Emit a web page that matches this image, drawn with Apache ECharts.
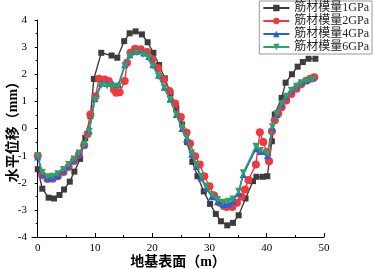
<!DOCTYPE html>
<html><head><meta charset="utf-8">
<script src="https://cdn.jsdelivr.net/npm/echarts@6/dist/echarts.min.js"></script>
<style>html,body{margin:0;padding:0;background:#fff}#c{width:374px;height:269px}</style>
</head><body><div id="c"></div>
<script>
var seriesNames = ['筋材模量1GPa','筋材模量2GPa','筋材模量4GPa','筋材模量6GPa'];
var xTickLabels = [0,10,20,30,40,50];
var xMinorTicks = [5,15,25,35,45];

var x1 = [0,0.8,1.9,2.85,3.8,4.6,5.6,6.4,7.4,8.3,9.2,9.8,11.1,12.9,13.9,15.1,16.05,17.1,18.2,19.2,20.2,21.2,22.2,23.2,24.2,25.2,26.1,27.0,27.9,29.0,30.1,31.1,32.0,33.1,34.1,35.1,36.3,37.6,38.2,39.3,40.1,40.9,41.4,42.6,43.3,44.4,45.4,46.3,47.3,48.5];
var y1 = [-1.5,-2.22,-2.55,-2.58,-2.45,-2.25,-1.96,-1.59,-1.12,-0.35,0.45,1.83,2.79,2.69,2.61,3.22,3.51,3.58,3.47,3.18,2.79,2.34,1.85,1.3,0.75,0.15,-0.5,-1.23,-1.76,-2.32,-2.78,-3.15,-3.42,-3.57,-3.48,-3.2,-2.58,-1.94,-1.78,-1.78,-1.76,-0.47,0.52,1.13,1.69,2.0,2.28,2.45,2.57,2.57];

var x2 = [0,0.8,1.7,2.6,3.5,4.5,5.4,6.3,7.2,8.1,8.7,9.2,10.1,10.7,11.7,12.4,13.3,13.7,14.3,15.2,15.6,16.2,17.0,18.0,19.1,20.0,21.0,22.0,23.0,24.0,25.0,26.0,26.6,27.5,28.3,29.1,30.0,30.8,31.8,32.5,33.0,34.0,34.8,35.6,36.2,36.8,38.1,38.8,39.4,40.0,40.4,40.9,41.4,42.0,42.6,43.4,44.3,45.2,46.0,46.9,47.6,48.3];
var y2 = [-1.0,-1.72,-1.86,-1.85,-1.76,-1.6,-1.42,-1.2,-0.96,-0.62,-0.2,0.52,1.19,1.83,1.81,1.75,1.44,1.32,1.34,1.75,2.42,2.79,2.94,2.92,2.82,2.55,2.22,1.81,1.38,0.92,0.42,-0.15,-0.55,-1.02,-1.33,-1.76,-2.13,-2.47,-2.74,-2.86,-2.89,-2.89,-2.74,-2.52,-2.25,-1.9,-1.33,-0.14,-0.5,-0.87,-1.21,-0.1,0.3,0.55,0.78,1.03,1.27,1.47,1.63,1.76,1.83,1.89];

var x4 = [0,0.8,1.7,2.6,3.5,4.5,5.4,6.3,7.2,8.1,9.0,10.0,11.1,12.1,13.1,14.1,15.2,16.1,17.2,18.5,19.4,20.1,21.1,22.1,23.1,24.2,25.2,26.0,26.9,27.7,28.5,29.4,30.4,31.4,32.4,33.3,34.1,35.1,35.9,38.1,38.9,40.1,41.0,41.8,42.6,43.4,44.3,45.2,46.0,46.9,48.0];
var y4 = [-1.05,-1.68,-1.83,-1.82,-1.73,-1.56,-1.38,-1.16,-0.93,-0.6,-0.08,1.1,1.68,1.66,1.65,1.62,2.35,2.72,2.84,2.78,2.65,2.35,1.96,1.52,1.08,0.52,0.0,-0.4,-0.95,-1.4,-1.82,-2.2,-2.52,-2.7,-2.8,-2.78,-2.68,-2.38,-1.7,-0.75,-0.85,-1.0,0.02,0.52,0.9,1.18,1.42,1.58,1.7,1.78,1.85];

var x6 = [0,0.8,1.7,2.6,3.5,4.5,5.4,6.3,7.2,8.1,9.0,10.0,11.1,12.1,13.1,14.1,15.2,16.1,17.2,18.5,19.4,20.1,21.1,22.1,23.1,24.2,25.2,26.0,26.9,27.7,28.5,29.4,30.4,31.4,32.4,33.3,34.1,35.1,35.9,38.1,38.9,40.1,41.0,41.8,42.6,43.4,44.3,45.2,46.0,46.9,48.0];
var y6 = [-1.0,-1.61,-1.78,-1.76,-1.67,-1.51,-1.33,-1.12,-0.9,-0.59,-0.1,1.07,1.59,1.57,1.56,1.56,2.3,2.67,2.79,2.73,2.61,2.3,1.93,1.5,1.07,0.52,0.03,-0.34,-0.9,-1.33,-1.76,-2.13,-2.44,-2.62,-2.72,-2.68,-2.6,-2.31,-1.63,-0.65,-0.81,-0.92,0.06,0.55,0.92,1.19,1.41,1.56,1.69,1.75,1.81];

function pairs(xs, ys){ return xs.map(function(x,i){return [x, ys[i]];}); }

var FONT = "'Liberation Serif','Noto Sans CJK SC',serif";
var colors = ['#3c3c3c','#f0393e','#2160e0','#2ea266'];
var symbols = ['rect','circle','triangle','path://M0,0 L10,0 L5,9 Z'];
var sizes = [6,8,7,7];
var datas = [pairs(x1,y1), pairs(x2,y2), pairs(x4,y4), pairs(x6,y6)];

var chart = echarts.init(document.getElementById('c'), null, {renderer:'canvas'});
var series = seriesNames.map(function(n,i){
  return {
    name:n, type:'line', data:datas[i], symbol:symbols[i], symbolSize:sizes[i],
    showAllSymbol:true,
    lineStyle:{color:colors[i], width:1.4},
    itemStyle:{color:colors[i]},
    z: 2 + i
  };
});
chart.setOption({
  animation:false,
  textStyle:{fontFamily:FONT},
  color: colors,
  grid:{left:32, right:50, top:20, bottom:32, containLabel:false, outerBoundsMode:'none'},
  legend:{
    data: seriesNames, orient:'vertical', right:2, top:1,
    itemWidth:26, itemHeight:8, itemGap:1,
    padding:[1,3,1,3], borderColor:'#999', borderWidth:1, backgroundColor:'#fff',
    textStyle:{fontFamily:FONT, fontSize:12, color:'#222'}
  },
  xAxis:[{
    type:'value', min:-1, max:50,
    name:'地基表面（m）', nameLocation:'middle', nameGap:25, nameMoveOverlap:false,
    nameTextStyle:{fontFamily:FONT, fontSize:14, fontWeight:'bold', color:'#000', verticalAlign:'middle', padding:[0,0,0,0]},
    axisLine:{onZero:false, lineStyle:{color:'#000', width:1}},
    axisTick:{inside:true, length:4, customValues:xTickLabels, lineStyle:{color:'#000'}},
    axisLabel:{customValues:xTickLabels, fontFamily:FONT, fontSize:11, color:'#000', margin:6},
    splitLine:{show:false}
  },{
    type:'value', min:-1, max:50, position:'bottom',
    axisLine:{show:false, onZero:false},
    axisTick:{inside:true, length:2, customValues:xMinorTicks, lineStyle:{color:'#000'}},
    axisLabel:{show:false}, splitLine:{show:false}
  }],
  yAxis:{
    type:'value', min:-4, max:4, interval:1,
    name:'水平位移（mm）', nameLocation:'middle', nameGap:19, nameRotate:90, nameMoveOverlap:false,
    nameTextStyle:{fontFamily:FONT, fontSize:14, fontWeight:'bold', color:'#000', verticalAlign:'middle'},
    axisLine:{show:true, lineStyle:{color:'#000', width:1}},
    axisTick:{length:3, lineStyle:{color:'#000'}},
    minorTick:{show:true, splitNumber:2, length:2, lineStyle:{color:'#000'}},
    axisLabel:{fontFamily:FONT, fontSize:11, color:'#000', margin:5},
    splitLine:{show:false}
  },
  series: series
});
</script></body></html>
